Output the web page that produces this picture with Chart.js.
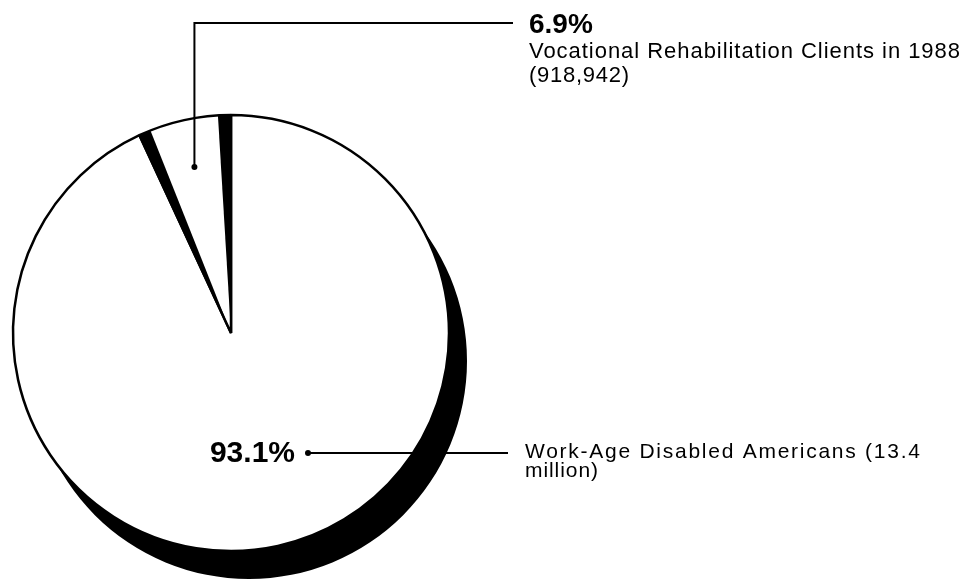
<!DOCTYPE html>
<html>
<head>
<meta charset="utf-8">
<script src="https://cdn.jsdelivr.net/npm/chart.js@4.4.0/dist/chart.umd.min.js"></script>
<style>
  html, body { margin: 0; background: #fff; }
  #wrap { width: 963px; height: 583px; }
</style>
</head>
<body>
<div id="wrap"><canvas id="pieChart"></canvas></div>
<script>
'use strict';

// data
const categories = ['Work-Age Disabled Americans', 'Vocational Rehabilitation Clients in 1988'];
const shares = [93.1, 6.9];
const shareLabels = ['93.1%', '6.9%'];
const labelLines = [
  ['Work-Age Disabled Americans (13.4', 'million)'],
  ['Vocational Rehabilitation Clients in 1988', '(918,942)']
];

const FONT = '"Liberation Sans", Arial, Helvetica, sans-serif';
const SHADOW_DX = 18, SHADOW_DY = 28;

function arcProps(arc) {
  return arc.getProps(['x', 'y', 'startAngle', 'endAngle', 'outerRadius']);
}

function wedge(ctx, p, a0, a1, dx, dy) {
  ctx.beginPath();
  ctx.moveTo(p.x + dx, p.y + dy);
  ctx.arc(p.x + dx, p.y + dy, p.outerRadius, a0, a1);
  ctx.closePath();
  ctx.fill();
}

// black drop shadow under the pie
const shadowPlugin = {
  id: 'shadow',
  beforeDatasetsDraw(chart) {
    const ctx = chart.ctx;
    ctx.save();
    ctx.fillStyle = '#000';
    for (const arc of chart.getDatasetMeta(0).data) {
      const p = arcProps(arc);
      wedge(ctx, p, p.startAngle, p.endAngle, SHADOW_DX, SHADOW_DY);
    }
    ctx.restore();
  },
  // dark depth edges either side of the small slice
  afterDatasetsDraw(chart) {
    const ctx = chart.ctx;
    const p = arcProps(chart.getDatasetMeta(0).data[1]);
    ctx.save();
    ctx.fillStyle = '#000';
    wedge(ctx, p, p.startAngle, p.startAngle + 0.055, 0, 0);
    wedge(ctx, p, p.endAngle - 0.06, p.endAngle, 0, 0);
    ctx.restore();
  }
};

// the scanned lettering is set wider than Liberation Sans, so stretch to its width
function fitText(ctx, text, x, y, width) {
  ctx.letterSpacing = '0px';
  const w = ctx.measureText(text).width;
  const extra = (width - w) / (text.length - 1);
  ctx.letterSpacing = extra.toFixed(2) + 'px';
  ctx.fillText(text, x, y);
  ctx.letterSpacing = '0px';
}

// leader lines and labels
const labelPlugin = {
  id: 'labels',
  afterDraw(chart) {
    const ctx = chart.ctx;
    const arcs = chart.getDatasetMeta(0).data;
    ctx.save();
    ctx.strokeStyle = '#000';
    ctx.fillStyle = '#000';
    ctx.lineWidth = 2;

    // small slice: dot inside the slice, up and across to the label
    const s = arcProps(arcs[1]);
    const mid = (s.startAngle + s.endAngle) / 2;
    const dotX = s.x + Math.cos(mid) * s.outerRadius * 0.78;
    const dotY = s.y + Math.sin(mid) * s.outerRadius * 0.78;
    ctx.beginPath();
    ctx.moveTo(dotX, dotY);
    ctx.lineTo(dotX, 23);
    ctx.lineTo(513, 23);
    ctx.stroke();
    ctx.beginPath();
    ctx.arc(dotX, dotY, 3, 0, Math.PI * 2);
    ctx.fill();

    ctx.textBaseline = 'alphabetic';
    ctx.textAlign = 'left';
    ctx.font = 'bold 28px ' + FONT;
    ctx.fillText(shareLabels[1], 529, 33);
    ctx.font = '22px ' + FONT;
    fitText(ctx, labelLines[1][0], 529, 58, 431);
    fitText(ctx, labelLines[1][1], 529, 82, 100);

    // big slice
    ctx.beginPath();
    ctx.moveTo(308, 453);
    ctx.lineTo(508, 453);
    ctx.stroke();
    ctx.beginPath();
    ctx.arc(308, 453, 3, 0, Math.PI * 2);
    ctx.fill();
    ctx.font = 'bold 30px ' + FONT;
    ctx.textAlign = 'right';
    ctx.fillText(shareLabels[0], 295, 462);
    ctx.textAlign = 'left';
    ctx.font = '21px ' + FONT;
    fitText(ctx, labelLines[0][0], 525, 458, 395);
    fitText(ctx, labelLines[0][1], 525, 477, 73);
    ctx.restore();
  }
};

new Chart(document.getElementById('pieChart'), {
  type: 'pie',
  data: {
    labels: categories,
    datasets: [{
      data: shares,
      backgroundColor: '#fff',
      borderColor: '#000',
      borderWidth: 2.5,
      radius: 218
    }]
  },
  options: {
    responsive: true,
    maintainAspectRatio: false,
    animation: false,
    layout: { padding: { left: 13, top: 115, right: 514, bottom: 32 } },
    plugins: {
      legend: { display: false },
      tooltip: { enabled: false }
    }
  },
  plugins: [shadowPlugin, labelPlugin]
});
</script>
</body>
</html>
